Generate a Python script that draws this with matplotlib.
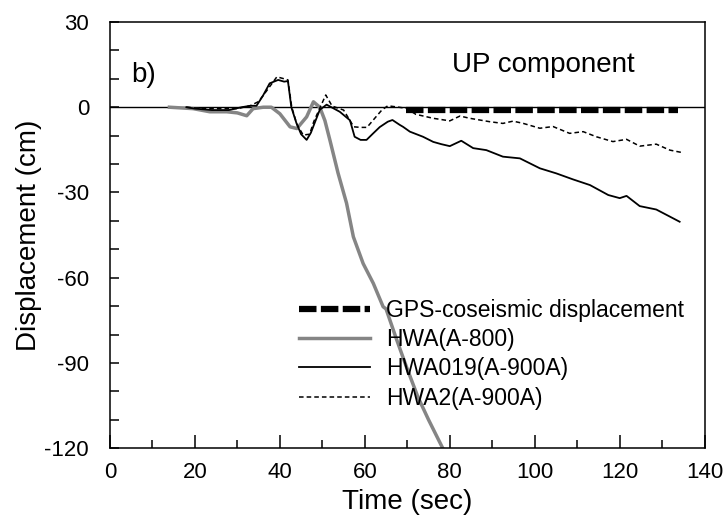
import matplotlib
matplotlib.use('Agg')
import matplotlib.pyplot as plt
from matplotlib.ticker import MultipleLocator

plt.rcParams['font.family'] = ['Liberation Sans', 'DejaVu Sans']
plt.rcParams['axes.unicode_minus'] = False

# GPS coseismic displacement (constant offset)
gpsTime = [69.8, 133.7]
gpsDisp = [-1.0, -1.0]

# HWA (A-800), thick gray
hwaTime = [14, 19.6, 23.5, 27.5, 30, 32.2, 33.7, 36.1, 38, 40, 42.4, 44, 46.3, 47.9, 49.4,
           50.6, 51.8, 53.7, 55.7, 57.3, 59.6, 62, 64.3, 65, 67.3, 69.7, 72.5, 75, 78, 80]
hwaDisp = [0, -0.5, -1.6, -1.6, -2, -3, -0.5, 0, 0, -2.3, -6.9, -7.5, -3.4, 1.9, 0,
           -4.7, -11.7, -23.2, -33.8, -45.6, -55, -62, -70.2, -71, -81, -91, -102, -110, -119, -125]

# HWA019 (A-900A), thin solid
h019Time = [18, 20, 24, 28, 31, 33, 34.5, 36, 37.6, 39.6, 41, 41.9, 42.7, 43.9, 45, 46.3, 47.3,
            48.2, 49.4, 51, 52.5, 54.1, 56.5, 57.6, 59, 60.4, 61.9, 63.5, 65.4, 66.5, 68.2, 69,
            70.6, 73.7, 76.1, 78, 80, 82.7, 85.5, 88.6, 92.5, 96.5, 101.2, 105.1, 109, 113,
            117.3, 120, 121.6, 124.7, 128.6, 131.8, 134.1]
h019Disp = [0, -0.5, -1, -1, 0, 0.5, 0.5, 4, 8.4, 9.6, 9.0, 9.2, 0, -5.6, -9.5, -11.5, -9,
            -5.5, -0.9, 0.9, -0.3, -1.6, -4.6, -10.4, -11.5, -11.5, -9.3, -7, -5.1, -4.5, -6.2, -6.9,
            -8.6, -10.4, -12.2, -13, -13.7, -11.8, -14.4, -15.1, -17.4, -18, -21.5, -23.3, -25.4, -27.4,
            -30.9, -32, -31.2, -34.8, -36, -38.5, -40.3]

# HWA2 (A-900A), thin dashed
h2Time = [18, 22, 26, 30, 33, 35, 37, 39.3, 41, 41.9, 42.8, 44, 45.5, 47, 48, 49.2, 50.8, 52.3,
          55, 57.4, 59, 60.5, 62.5, 64, 65.4, 68, 69.8, 72, 76.1, 80, 82.4, 84.7, 89.4, 92.5,
          94.9, 97.3, 101.2, 104.3, 108.2, 111.4, 114.5, 118.4, 121.6, 124.7, 128.6, 131.8, 134.5]
h2Disp = [0, -0.5, -0.5, -0.5, 0.5, 2, 6, 10.7, 10, 9.6, 0, -6, -9.8, -9.5, -5, -1, 4.3, 0.4,
          -1, -6.9, -7.1, -7.1, -3.6, -1, 0.5, 0, -0.4, -2.5, -3.9, -4.8, -3.1, -3.9, -5.1, -5.7,
          -4.9, -5.7, -7.4, -6.8, -9.2, -8.6, -10.4, -12.1, -11.3, -13.7, -13.0, -15.1, -15.9]

labels = ['GPS-coseismic displacement', 'HWA(A-800)', 'HWA019(A-900A)', 'HWA2(A-900A)']

fig = plt.figure(figsize=(7.28, 5.23), dpi=100)
ax = fig.add_axes([0.151, 0.143, 0.817, 0.815])

ax.axhline(0, color='black', lw=1.0, zorder=1)
ax.plot(gpsTime, gpsDisp, color='black', lw=4.5, dashes=(2.8, 0.7),
        solid_capstyle='butt', dash_capstyle='butt', label=labels[0], zorder=3)
ax.plot(hwaTime, hwaDisp, color='#858585', lw=2.5, label=labels[1], zorder=2)
ax.plot(h019Time, h019Disp, color='black', lw=1.3, label=labels[2], zorder=4)
ax.plot(h2Time, h2Disp, color='black', lw=1.1, dashes=(3, 2), label=labels[3], zorder=4)

ax.set_xlim(0, 140)
ax.set_ylim(-120, 30)
ax.xaxis.set_major_locator(MultipleLocator(20))
ax.xaxis.set_minor_locator(MultipleLocator(10))
ax.yaxis.set_major_locator(MultipleLocator(30))
ax.yaxis.set_minor_locator(MultipleLocator(10))
ax.tick_params(axis='x', which='major', direction='in', length=9.5, width=1.1, pad=10, labelsize=16)
ax.tick_params(axis='x', which='minor', direction='in', length=6, width=1.1)
ax.tick_params(axis='y', which='both', direction='in', length=6.5, width=1.1)
ax.tick_params(axis='y', which='major', pad=15, labelsize=16)
for s in ax.spines.values():
    s.set_linewidth(1.1)

ax.set_xlabel('Time (sec)', fontsize=20, labelpad=4)
ax.set_ylabel('Displacement (cm)', fontsize=20, labelpad=2)

ax.text(5, 11.3, 'b)', fontsize=20, va='center', ha='left')
ax.text(101.9, 15, 'UP component', fontsize=20, va='center', ha='center')

ax.legend(loc='upper left', bbox_to_anchor=(0.318, 0.35), frameon=False, fontsize=16.5,
          handlelength=3.1, handletextpad=0.7, labelspacing=0.27, borderpad=0, borderaxespad=0)

fig.savefig('out.png', dpi=100)
